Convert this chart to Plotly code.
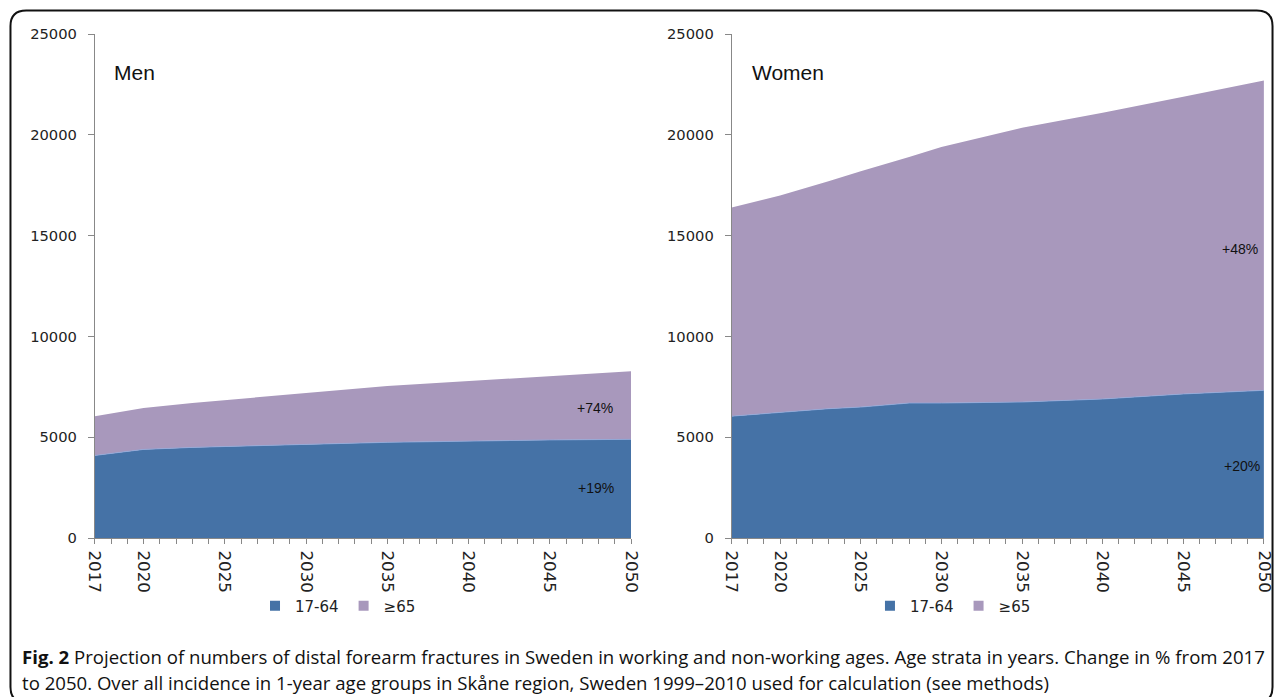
import plotly.graph_objects as go

W, H = 1285, 697
# The photographed page shows the figure inside an 8px page margin and then
# scales it back to WxH; positions below are target picture pixels that are
# converted to figure fractions with that margin taken into account.
PAD = 8

years = [2017, 2020, 2023, 2025, 2028, 2030, 2035, 2040, 2045, 2050]
men_working = [4100, 4400, 4500, 4550, 4620, 4650, 4750, 4820, 4870, 4900]
men_old = [1950, 2050, 2200, 2300, 2430, 2550, 2800, 2980, 3180, 3380]
women_working = [6050, 6250, 6420, 6500, 6700, 6700, 6750, 6900, 7150, 7330]
women_old = [10350, 10750, 11280, 11700, 12200, 12700, 13600, 14200, 14750, 15370]

tick_years = list(range(2017, 2051))
labelled_years = [2017, 2020, 2025, 2030, 2035, 2040, 2045, 2050]
y_ticks = [0, 5000, 10000, 15000, 20000, 25000]
y_tick_labels = ["0", "5000", "10000", "15000", "20000", "25000"]

series_names = ["17-64", "≥65"]
blue = "#4572A6"
purple = "#A898BC"


def px(x):
    return (x * (W + 2 * PAD) / W - PAD) / W


def py(y):
    return 1 - (y * (H + 2 * PAD) / H - PAD) / H


fig = go.Figure()

panels = [
    ("x", "y", men_working, men_old, "legend", "Men"),
    ("x2", "y2", women_working, women_old, "legend2", "Women"),
]
for xa, ya, work, old, leg, name in panels:
    fig.add_trace(go.Scatter(x=years, y=work, xaxis=xa, yaxis=ya, stackgroup=name,
                             mode="lines", line=dict(width=0.8, color="#8FAADC"),
                             fillcolor=blue, showlegend=False, hoverinfo="x+y"))
    fig.add_trace(go.Scatter(x=years, y=old, xaxis=xa, yaxis=ya, stackgroup=name,
                             mode="lines", line=dict(width=0, color=purple),
                             fillcolor=purple, showlegend=False, hoverinfo="x+y"))
    for nm, col in zip(series_names, [blue, purple]):
        fig.add_trace(go.Scatter(x=[None], y=[None], xaxis=xa, yaxis=ya, mode="markers",
                                 marker=dict(symbol="square", size=10, color=col),
                                 name=nm, legend=leg, showlegend=True))

tick_text = [str(y) if y in labelled_years else "" for y in tick_years]
yfont = dict(family="DejaVu Sans, Verdana, sans-serif", size=14.7, color="#222")
xfont = dict(family="DejaVu Sans, Verdana, sans-serif", size=16.7, color="#222")

xcommon = dict(range=[2017, 2050], tickmode="array", tickvals=tick_years, ticktext=tick_text,
               tickangle=90, ticks="outside", ticklen=5, tickcolor="#888",
               ticklabelstandoff=3,
               showline=True, linecolor="#888", linewidth=1, showgrid=False,
               zeroline=False, tickfont=xfont, fixedrange=True)
ycommon = dict(range=[0, 25000], tickmode="array", tickvals=y_ticks, ticktext=y_tick_labels,
               ticks="outside", ticklen=6, tickcolor="#888",
               ticklabelstandoff=8,
               showline=True, linecolor="#888", linewidth=1, showgrid=False,
               zeroline=False, tickfont=yfont, fixedrange=True)

legfont = dict(family="DejaVu Sans, Verdana, sans-serif", size=15, color="#222")
fig.update_layout(
    width=W, height=H,
    margin=dict(l=0, r=0, t=0, b=0),
    paper_bgcolor="white", plot_bgcolor="white",
    xaxis=dict(domain=[px(94), px(632)], anchor="y", **xcommon),
    yaxis=dict(domain=[py(538), py(33)], anchor="x", **ycommon),
    xaxis2=dict(domain=[px(733), px(1267)], anchor="y2", **xcommon),
    yaxis2=dict(domain=[py(538), py(33)], anchor="x2", **ycommon),
    legend=dict(orientation="h", x=px(338), xanchor="center", y=py(606), yanchor="middle",
                font=legfont, traceorder="normal", itemwidth=30, bgcolor="rgba(0,0,0,0)"),
    legend2=dict(orientation="h", x=px(955), xanchor="center", y=py(606), yanchor="middle",
                 font=legfont, traceorder="normal", itemwidth=30, bgcolor="rgba(0,0,0,0)"),
    showlegend=True,
)

lbl_font = dict(family="Liberation Sans, Arial, sans-serif", size=21, color="#111")
pct_font = dict(family="Liberation Sans, Arial, sans-serif", size=14, color="#111")
cap_font = dict(family="Open Sans, Noto Sans, sans-serif", size=18.6, color="#111")
annos = [
    dict(x=px(111), y=py(71), text="Men", xanchor="left", font=lbl_font),
    dict(x=px(751), y=py(71), text="Women", xanchor="left", font=lbl_font),
    dict(x=px(596), y=py(408), text="+74%", xanchor="center", font=pct_font),
    dict(x=px(597), y=py(488), text="+19%", xanchor="center", font=pct_font),
    dict(x=px(1243), y=py(248), text="+48%", xanchor="center", font=pct_font),
    dict(x=px(1245), y=py(466), text="+20%", xanchor="center", font=pct_font),
    dict(x=px(19), y=py(657), xanchor="left", align="left", font=cap_font,
         text="<b>Fig. 2</b> Projection of numbers of distal forearm fractures in Sweden in working and non-working ages. Age strata in years. Change in % from 2017"),
    dict(x=px(19), y=py(683), xanchor="left", align="left", font=cap_font,
         text="to 2050. Over all incidence in 1-year age groups in Skåne region, Sweden 1999–2010 used for calculation (see methods)"),
]
for a in annos:
    a.update(xref="paper", yref="paper", showarrow=False)
    a.setdefault("yanchor", "middle")
    fig.add_annotation(**a)

# rounded outer frame (in figure fractions; right edge kept just inside the figure)
r = 16
fx0, fy0, fx1, fy1 = 1.5 / W, 1 - 1.5 / H, 1 - 1.5 / W, -0.02
rx, ry = r / W, r / H
path = (f"M {fx0},{fy0 - ry} Q {fx0},{fy0} {fx0 + rx},{fy0} "
        f"L {fx1 - rx},{fy0} Q {fx1},{fy0} {fx1},{fy0 - ry} "
        f"L {fx1},{fy1 + ry} Q {fx1},{fy1} {fx1 - rx},{fy1} "
        f"L {fx0 + rx},{fy1} Q {fx0},{fy1} {fx0},{fy1 + ry} Z")
fig.add_shape(type="path", path=path, xref="paper", yref="paper",
              line=dict(color="#111", width=2))

fig.write_html("out.html")
